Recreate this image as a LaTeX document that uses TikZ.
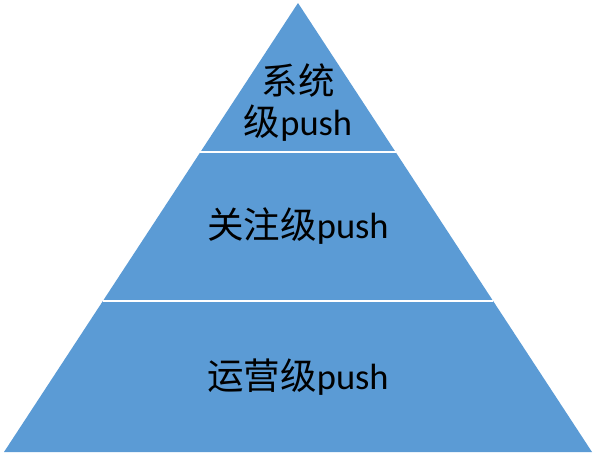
\documentclass[tikz,border=0pt]{standalone}
\usepackage{fontspec}
\setmainfont{Carlito}
\newfontfamily\cjk{Noto Sans CJK SC}
\usetikzlibrary{calc}
\definecolor{pyrblue}{HTML}{5B9BD5}

\begin{document}
\begin{tikzpicture}[x=1pt, y=-1pt,
    pyramid/.style={fill=pyrblue},
    tierline/.style={draw=white, line width=2.5pt},
    tiertext/.style={font=\fontsize{36.5}{41}\selectfont, align=center, inner sep=0pt}]
    \useasboundingbox (0,0) rectangle (596,455);
    \coordinate (apex) at (298,3);
    \coordinate (bl) at (4,452);
    \coordinate (br) at (592,452);
    \fill[pyramid] (apex) -- (bl) -- (br) -- cycle;
    % tier borders
    \draw[tierline] ($(apex)!0.332!(bl)$) -- ($(apex)!0.332!(br)$);
    \draw[tierline] ($(apex)!0.664!(bl)$) -- ($(apex)!0.664!(br)$);

    \node[tiertext] (system) at (298,103) {{\cjk 系统}\\{\cjk 级}push};
    \node[tiertext] (follow) at (298,226) {{\cjk 关注级}push};
    \node[tiertext] (operate) at (298,377) {{\cjk 运营级}push};
\end{tikzpicture}
\end{document}
